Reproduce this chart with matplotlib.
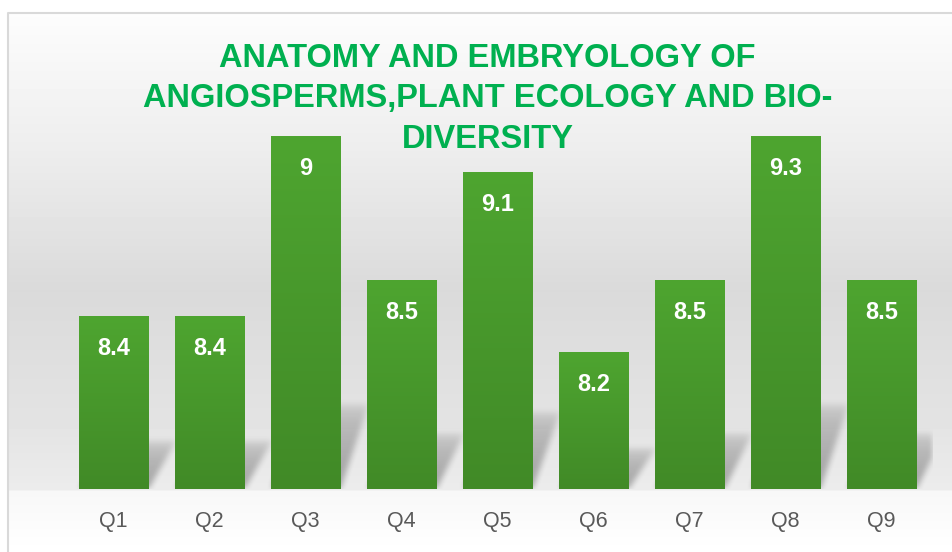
import numpy as np
import matplotlib.pyplot as plt
from matplotlib.colors import LinearSegmentedColormap

plt.rcParams['font.family'] = ['Liberation Sans', 'DejaVu Sans']

# data
categories = ['Q1', 'Q2', 'Q3', 'Q4', 'Q5', 'Q6', 'Q7', 'Q8', 'Q9']
scores = [8.4, 8.4, 9, 8.5, 9.1, 8.2, 8.5, 9.3, 8.5]
# bar heights as drawn in the picture (value axis is hidden)
bar_heights = [4.8, 4.8, 9.8, 5.8, 8.8, 3.8, 5.8, 9.8, 5.8]
title = 'ANATOMY AND EMBRYOLOGY OF\nANGIOSPERMS,PLANT ECOLOGY AND BIO-\nDIVERSITY'

W, H = 952, 552
fig = plt.figure(figsize=(W / 100, H / 100), dpi=100)

# background: chart wall + floor gradient
bg = fig.add_axes([0, 0, 1, 1])
rows = np.arange(H)
col = np.interp(rows, [0, 13, 150, 290, 420, 489, 491, 552],
                [1.0, 0.99, 0.93, 0.855, 0.89, 0.925, 0.97, 1.0])
grad = np.tile(col[:, None], (1, W))
grad[:13, :] = 1.0
grad[:, :8] = 1.0
bg.imshow(grad, cmap='gray', vmin=0, vmax=1, extent=[0, W, H, 0], aspect='auto')
bg.plot([8, 8, W], [H, 13, 13], color='#d9d9d9', lw=1.5)
bg.set_xlim(0, W)
bg.set_ylim(H, 0)
bg.axis('off')

# main axes: 96 px per category, 36 px per height unit
ax = fig.add_axes([65.5 / W, (H - 489) / H, 867 / W, 476 / H])
ax.patch.set_alpha(0)
ymax = 476 / 36
xmax = 8.5 + 3 / 96

# perspective shadows behind bars
xs = np.arange(0, 867) + 0.5
ys = np.arange(0, 160) + 0.5
X, Y = np.meshgrid(xs, ys)
shade = np.zeros_like(X)
for i, h in enumerate(bar_heights):
    hpx = h * 36
    hs = 0.2 * hpx + 14
    shift = 28 * Y / hs
    x0 = (i + 0.5) * 96 - 34.5
    inside = (Y <= hs) & (X >= x0 + shift) & (X <= x0 + 69 + shift)
    val = np.where(inside, np.clip(1 - Y / hs, 0, 1) ** 0.35, 0)
    shade = np.maximum(shade, val)
k = np.ones(7) / 7
for _ in range(2):
    shade = np.apply_along_axis(lambda r: np.convolve(r, k, mode='same'), 1, shade)
    shade = np.apply_along_axis(lambda c: np.convolve(c, k, mode='same'), 0, shade)
rgba = np.zeros(shade.shape + (4,))
rgba[..., 3] = 0.3 * shade
ax.imshow(rgba, extent=[-0.5, xmax, 0, 160 / 36], origin='lower',
          aspect='auto', zorder=1)

# bars with vertical green gradient
green = LinearSegmentedColormap.from_list('g', ['#418a27', '#4ea530'])
bars = ax.bar(range(len(categories)), bar_heights, width=0.72,
              facecolor='none', edgecolor='none', zorder=2)
g = np.linspace(0, 1, 256)[:, None]
for b in bars:
    x0 = b.get_x()
    im = ax.imshow(g, cmap=green, extent=[x0, x0 + b.get_width(), 0, b.get_height()],
                   origin='lower', aspect='auto', zorder=3)
    im.set_clip_path(b)

for i, (h, s) in enumerate(zip(bar_heights, scores)):
    ax.annotate(str(s), (i, h), xytext=(0, -23.5), textcoords='offset points',
                ha='center', va='center', color='white', fontsize=17,
                fontweight='bold', zorder=4)

ax.set_xlim(-0.5, xmax)
ax.set_ylim(0, ymax)
ax.set_xticks(range(len(categories)))
ax.set_xticklabels(categories, fontsize=15.5, color='#595959')
ax.tick_params(axis='x', length=0, pad=16)
ax.set_yticks([])
for sp in ax.spines.values():
    sp.set_visible(False)

fig.text(487.5 / W, 1 - 99 / H, title, ha='center', va='center',
         fontsize=23.5, fontweight='bold', color='#00b050', linespacing=1.38)

fig.savefig('out.png', dpi=100)
